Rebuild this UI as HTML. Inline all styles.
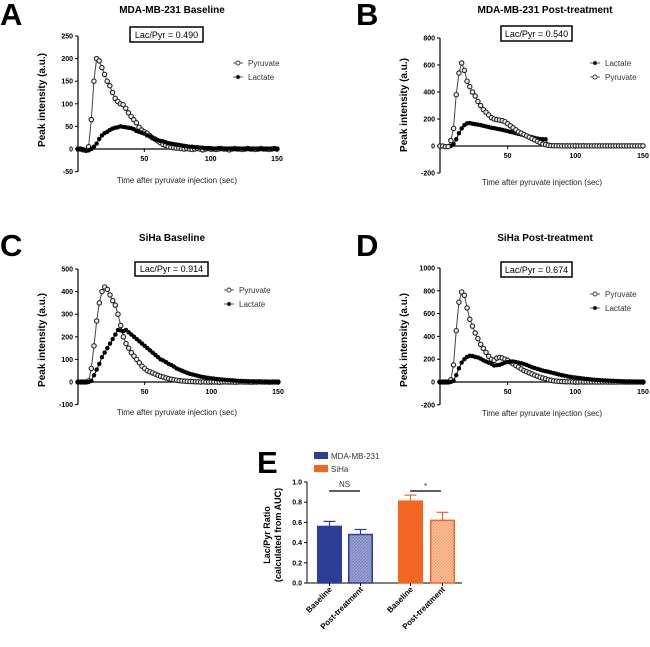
<!DOCTYPE html>
<html><head><meta charset="utf-8"><style>
body{margin:0;background:#fff}
svg{display:block;font-family:"Liberation Sans",Arial,sans-serif}
</style></head><body>
<svg id="fig" width="650" height="647" viewBox="0 0 650 647">
<defs>
<pattern id="hatchBlue" width="3" height="3" patternUnits="userSpaceOnUse"><rect width="3" height="3" fill="#9ea5d3"/><path d="M0,3 L3,0" stroke="#6f79b8" stroke-width="0.8"/></pattern>
<pattern id="hatchOrange" width="3" height="3" patternUnits="userSpaceOnUse"><rect width="3" height="3" fill="#fbc3a2"/><path d="M0,3 L3,0" stroke="#f5955f" stroke-width="0.8"/></pattern>
</defs>
</svg>
<script>
// time base: every 2 s from 0 to 150
const times = [];
for (let t = 0; t <= 150; t += 2) times.push(t);
const aPyr = [0,0,-2,-3,5,65,150,200,195,180,165,150,140,125,112,105,100,98,90,80,72,65,58,48,42,38,35,30,25,22,18,14,10,8,5,4,3,2,2,1,0,1,0,-1,0,1,0,-2,0,1,0,0,-1,0,1,0,0,-2,0,1,0,0,-1,0,1,0,0,-1,0,1,0,0,-1,0,1,0];
const aLac = [0,0,-1,-3,-3,0,5,12,22,30,35,38,42,45,47,48,50,49,48,47,46,44,40,38,36,34,30,28,25,22,20,18,17,15,13,12,11,10,9,8,7,6,5,5,4,4,3,3,2,2,2,1,1,2,1,1,0,1,1,0,1,0,1,0,1,0,0,1,0,1,0,0,1,0,1,0];
const bLac = [0,0,-5,-5,0,15,50,95,130,155,168,170,165,162,158,155,150,145,140,135,132,128,124,120,115,110,105,100,95,90,85,80,75,70,65,60,55,52,50,50,10,6,5,5,4,5,4,5,4,4,5,4,4,5,4,4,3,4,3,4,3,4,3,4,3,3,4,3,3,3,4,3,3,3,3,3];
const bPyr = [0,0,-5,-5,40,130,380,540,615,560,480,440,400,370,330,300,270,250,230,210,200,195,192,188,180,165,150,135,120,105,95,85,75,65,55,45,35,25,15,10,5,3,2,2,2,1,1,1,1,1,1,1,1,1,1,1,1,1,1,1,1,1,1,1,1,1,1,1,1,1,1,1,1,1,1,1];
const cPyr = [0,0,0,0,5,60,160,270,350,400,420,410,385,360,340,300,250,200,170,150,130,115,100,85,70,60,50,45,40,35,30,25,22,18,15,12,10,8,6,5,4,3,2,2,1,1,0,1,0,0,1,0,0,-1,0,1,0,0,0,-1,0,1,0,0,0,-1,0,0,1,0,0,0,-1,0,0,0];
const cLac = [0,0,0,0,0,5,30,55,80,110,130,150,170,190,210,230,228,225,230,220,210,200,190,180,170,160,150,140,130,120,110,100,95,88,80,75,68,60,55,50,45,40,36,33,30,27,24,22,20,18,16,15,13,12,11,10,9,8,7,6,5,5,4,4,3,3,3,2,2,2,1,1,1,1,0,0];
const dPyr = [0,0,0,0,20,150,450,700,790,760,650,550,490,430,380,330,295,260,225,200,190,210,215,210,200,190,175,160,145,130,115,100,90,80,70,60,50,42,35,28,20,15,10,8,5,4,3,2,2,1,1,0,1,0,0,0,1,0,0,0,0,1,0,0,0,0,0,1,0,0,0,0,0,0,0,0];
const dLac = [0,0,0,0,0,10,60,120,170,200,220,230,228,220,215,205,190,180,170,160,145,148,150,160,170,175,178,180,175,170,165,158,150,140,130,122,115,108,100,95,90,84,78,72,66,60,55,50,46,42,40,36,33,30,27,25,22,20,18,16,15,13,12,11,10,9,8,7,6,5,5,4,3,3,2,1];
// panel E
const eCategories = ["Baseline","Post-treatment","Baseline","Post-treatment"];
const eValues = [0.56,0.48,0.81,0.62];
const eErrors = [0.05,0.05,0.06,0.08];
const eTicks = [0,0.2,0.4,0.6,0.8,1.0];

const NS = "http://www.w3.org/2000/svg";
const svg = document.getElementById('fig');
function mk(tag, attrs, parent, text){
  const e = document.createElementNS(NS, tag);
  for (const k in attrs) e.setAttribute(k, attrs[k]);
  if (text !== undefined) e.textContent = text;
  (parent || svg).appendChild(e);
  return e;
}

const panels = [
 {id:'a',letter:'A',lx:0,ly:25,title:'MDA-MB-231 Baseline',tx:172,ty:13,box:[130,27,73,15],ratio:'Lac/Pyr = 0.490',
  ax:78,x150:277,y0:149,yTop:36,yMax:250,yMin:-50,ticks:[-50,0,50,100,150,200,250],
  series:[['Pyruvate',aPyr,true],['Lactate',aLac,false]],leg:[238,63],ylx:45,yly:100,xtx:177,xty:183},
 {id:'b',letter:'B',lx:356,ly:25,title:'MDA-MB-231 Post-treatment',tx:545,ty:13,box:[501,26,71,15],ratio:'Lac/Pyr = 0.540',
  ax:440,x150:643,y0:146,yTop:38,yMax:800,yMin:-200,ticks:[-200,0,200,400,600,800],
  series:[['Lactate',bLac,false],['Pyruvate',bPyr,true]],leg:[595,63],ylx:407,yly:105,xtx:542,xty:185},
 {id:'c',letter:'C',lx:0,ly:256,title:'SiHa Baseline',tx:172,ty:241,box:[135,262,73,14],ratio:'Lac/Pyr = 0.914',
  ax:78,x150:278,y0:382,yTop:269,yMax:500,yMin:-100,ticks:[-100,0,100,200,300,400,500],
  series:[['Pyruvate',cPyr,true],['Lactate',cLac,false]],leg:[229,290],ylx:45,yly:340,xtx:177,xty:415},
 {id:'d',letter:'D',lx:356,ly:256,title:'SiHa Post-treatment',tx:545,ty:241,box:[501,262,71,15],ratio:'Lac/Pyr = 0.674',
  ax:440,x150:643,y0:382,yTop:268,yMax:1000,yMin:-200,ticks:[-200,0,200,400,600,800,1000],
  series:[['Pyruvate',dPyr,true],['Lactate',dLac,false]],leg:[595,294],ylx:407,yly:340,xtx:542,xty:416}
];

panels.forEach(p=>{
  const g = mk('g',{});
  
  
  const xs = t => p.ax + (p.x150 - p.ax) * t / 150;
  const ys = v => p.y0 - (p.y0 - p.yTop) * v / p.yMax;
  let e = mk('text',{x:p.lx,y:p.ly,'font-size':31,'font-weight':'bold'},g,p.letter);
   
  e = mk('text',{x:p.tx,y:p.ty,'font-size':10,'font-weight':'bold','text-anchor':'middle'},g,p.title);
   
  e = mk('rect',{x:p.box[0],y:p.box[1],width:p.box[2],height:p.box[3],fill:'#fff',stroke:'#000','stroke-width':1.5},g);
   
  e = mk('text',{x:p.box[0]+p.box[2]/2,y:p.box[1]+p.box[3]-4,'font-size':9,'text-anchor':'middle'},g,p.ratio);
   
  e = mk('line',{x1:p.ax,x2:p.ax,y1:ys(p.yMax),y2:ys(p.yMin),stroke:'#000','stroke-width':1.2},g);
   
  e = mk('line',{x1:p.ax,x2:p.x150,y1:p.y0,y2:p.y0,stroke:'#000','stroke-width':1.2},g);
   
  p.ticks.forEach(v=>{
    mk('line',{x1:p.ax-3,x2:p.ax,y1:ys(v),y2:ys(v),stroke:'#000'},g);
    e = mk('text',{x:p.ax-5,y:ys(v)+2.5,'font-size':7,'font-weight':'bold','text-anchor':'end'},g,String(v));
     
  });
  [50,100,150].forEach(t=>{
    mk('line',{x1:xs(t),x2:xs(t),y1:p.y0,y2:p.y0+3,stroke:'#000'},g);
    e = mk('text',{x:xs(t),y:p.y0+12,'font-size':7,'font-weight':'bold','text-anchor':'middle'},g,String(t));
     
  });
  e = mk('text',{x:p.xtx,y:p.xty,'font-size':8,'text-anchor':'middle',fill:'#222'},g,'Time after pyruvate injection (sec)');
   
  e = mk('text',{x:0,y:0,'font-size':10,'font-weight':'bold','text-anchor':'middle',transform:`translate(${p.ylx},${p.yly}) rotate(-90)`},g,'Peak intensity (a.u.)');
   
  p.series.forEach((s,si)=>{
    const [name,vals,open] = s;
    const pts = vals.map((v,i)=>xs(times[i]).toFixed(1)+','+ys(v).toFixed(1)).join(' ');
    e = mk('polyline',{points:pts,fill:'none',stroke:open?'#444':'#000','stroke-width':1},g);
     
    vals.forEach((v,i)=>{
      const c = mk('circle',{cx:xs(times[i]),cy:ys(v),r:open?2.2:2,fill:open?'#eee':'#000',stroke:open?'#222':'#000','stroke-width':open?1.1:0.5},g);
      
      
    });
    const ly = p.leg[1] + si*14;
    mk('line',{x1:p.leg[0]-5,x2:p.leg[0]+5,y1:ly,y2:ly,stroke:'#333','stroke-width':0.8},g);
    mk('circle',{cx:p.leg[0],cy:ly,r:open?2:1.7,fill:open?'#fff':'#000',stroke:'#333','stroke-width':0.9},g);
    e = mk('text',{x:p.leg[0]+10,y:ly+3,'font-size':8,fill:'#333'},g,name);
     
  });
});

(function(){
  const g = mk('g',{});
  
  
  const axX = 307, y0 = 583, y1 = 482;
  const ys = v => y0 - (y0 - y1) * v;
  let e = mk('text',{x:257,y:473,'font-size':31,'font-weight':'bold'},g,'E');
   
  const legs = [['MDA-MB-231','#2d3e96'],['SiHa','#f26522']];
  legs.forEach((l,i)=>{
    mk('rect',{x:314,y:452+i*13,width:14,height:7,fill:l[1]},g);
    e = mk('text',{x:331,y:459+i*13,'font-size':8,fill:'#333'},g,l[0]);
     
  });
  e = mk('line',{x1:axX,x2:axX,y1:y1,y2:y0,stroke:'#000'},g);
   
  e = mk('line',{x1:axX,x2:462,y1:y0,y2:y0,stroke:'#000'},g);
   
  eTicks.forEach(v=>{
    mk('line',{x1:axX-3,x2:axX,y1:ys(v),y2:ys(v),stroke:'#000'},g);
    e = mk('text',{x:axX-5,y:ys(v)+2.5,'font-size':7,'font-weight':'bold','text-anchor':'end'},g,v.toFixed(1));
     
  });
  e = mk('text',{'font-size':9,'font-weight':'bold','text-anchor':'middle',transform:'translate(270,535) rotate(-90)'},g,'Lac/Pyr Ratio');
   
  e = mk('text',{'font-size':9,'font-weight':'bold','text-anchor':'middle',transform:'translate(281,535) rotate(-90)'},g,'(calculated from AUC)');
   
  const barX = [317,348,398,430], bw = 25;
  const fills = ['#2d3e96','url(#hatchBlue)','#f26522','url(#hatchOrange)'];
  const strokes = ['#2d3e96','#2d3e96','#f26522','#f26522'];
  eValues.forEach((v,i)=>{
    const cx = barX[i]+bw/2;
    const top = ys(v+eErrors[i]);
    mk('line',{x1:cx,x2:cx,y1:ys(v),y2:top,stroke:strokes[i],'stroke-width':1.2},g);
    mk('line',{x1:cx-6,x2:cx+6,y1:top,y2:top,stroke:strokes[i],'stroke-width':1.2},g);
    const r = mk('rect',{x:barX[i]+0.75,y:ys(v),width:bw-1.5,height:y0-ys(v),fill:fills[i],stroke:strokes[i],'stroke-width':1.5},g);
    
    
    mk('line',{x1:cx,x2:cx,y1:y0,y2:y0+3,stroke:'#000'},g);
    const t = mk('text',{'font-size':8,'font-weight':'bold','text-anchor':'end',transform:`translate(${cx+3},${y0+7}) rotate(-45)`},g,eCategories[i]);
    
    
  });
  [[329,360,'NS'],[410,441,'*']].forEach(b=>{
    mk('line',{x1:b[0],x2:b[1],y1:491,y2:491,stroke:'#000','stroke-width':1.3},g);
    e = mk('text',{x:(b[0]+b[1])/2,y:b[2]==='*'?489:487,'font-size':8,'text-anchor':'middle',fill:'#333'},g,b[2]);
     
  });
})();
</script>
</body></html>
